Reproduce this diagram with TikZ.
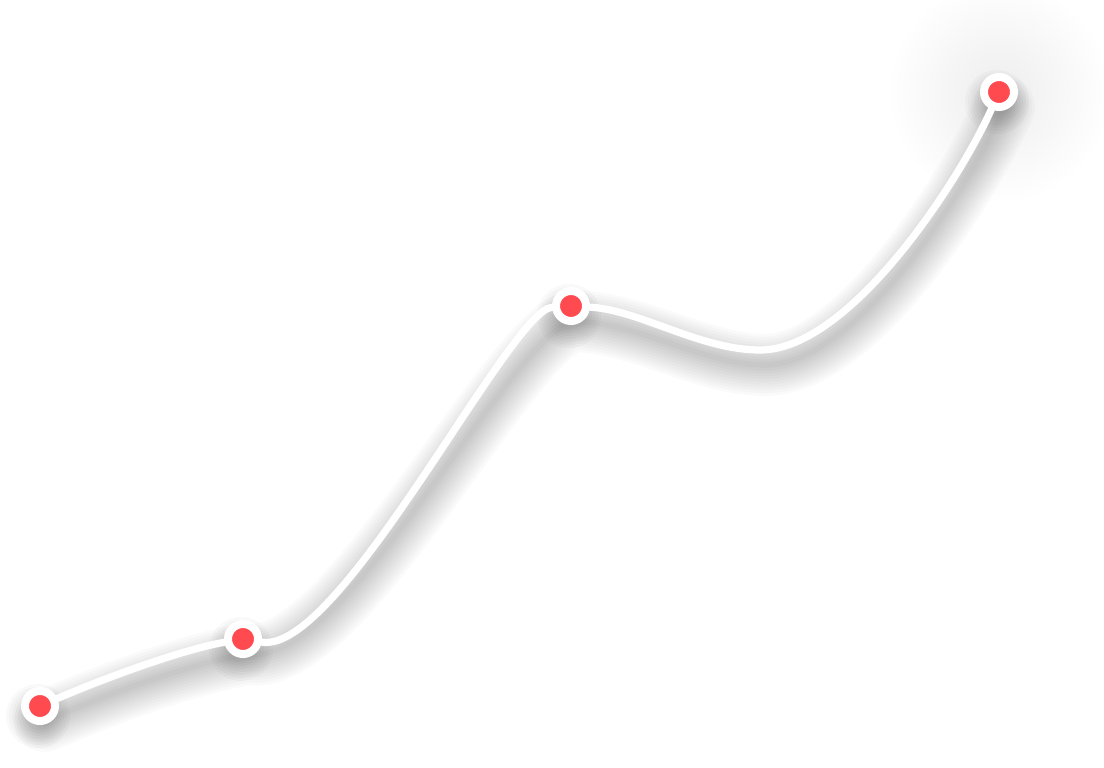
\documentclass[tikz,border=0pt]{standalone}
\usepackage{xcolor}
\definecolor{cDot}{HTML}{FF4A50}
\definecolor{cShade}{HTML}{000000}
\usepackage{tikz}
\usetikzlibrary{calc,backgrounds}
\tikzset{
  stop-dot/.style={circle,fill=cDot,draw=white,line width=0.2cm,
    minimum size=0.75cm,inner sep=0pt},
  trail/.style={draw=white,line width=0.18cm,line cap=round},
  trail-shade/.style={draw=cShade,opacity=0.018,line cap=round},
  dot-shade/.style={fill=cShade,opacity=0.025},
}
\newcommand{\trailroute}{(40,706) .. controls (100,680) and (180,650) .. (243,639)
  .. controls (340,655) and (510,310) .. (571,306)
  .. controls (640,310) and (700,350) .. (760,350)
  .. controls (850,350) and (960,180) .. (999,92)}

\begin{document}
\begin{tikzpicture}[x=0.025cm,y=-0.025cm]
  \useasboundingbox (0,0) rectangle (1104,768);
  \node[stop-dot] (s1) at (40,706) {};
  \node[stop-dot] (s2) at (243,639) {};
  \node[stop-dot] (s3) at (571,306) {};
  \node[stop-dot] (s4) at (999,92) {};
  \coordinate (dip) at (760,350);
  \draw[trail] (s1) .. controls (100,680) and (180,650) .. (s2);
  \draw[trail] (s2) .. controls (340,655) and (510,310) .. (s3);
  \draw[trail] (s3) .. controls (640,310) and (700,350) .. (dip)
    .. controls (850,350) and (960,180) .. (s4);
  % soft shadows under the trail and the stops
  \begin{scope}[on background layer]
    \fill[white] (0,0) rectangle (1104,768);
    \shade[inner color=cShade!7,outer color=white] (s4) circle (112);
    \begin{scope}[shift={(5,15)}]
      \foreach \w in {4,8,...,44}
        \draw[trail-shade,line width=\w pt] \trailroute;
    \end{scope}
    \foreach \s in {s1,s2,s3,s4}
      \foreach \r in {14,17,...,32}
        \fill[dot-shade] ($(\s)+(-2,10)$) circle (\r);
  \end{scope}
\end{tikzpicture}
\end{document}
